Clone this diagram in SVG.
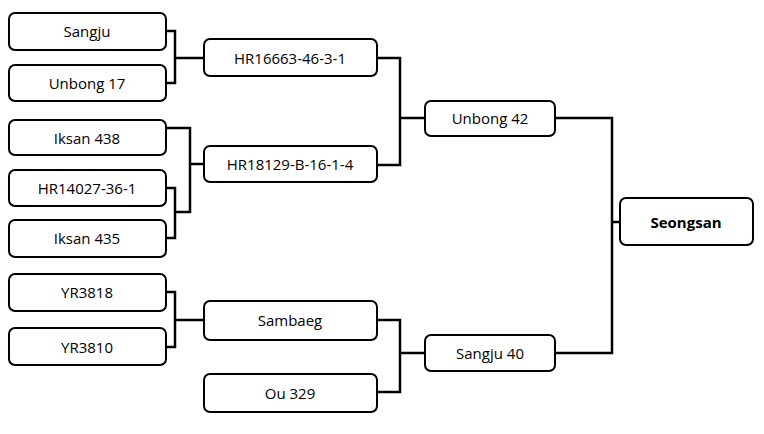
<svg xmlns="http://www.w3.org/2000/svg" width="764" height="434" viewBox="0 0 764 434">
<style>
.n rect{fill:#fff;stroke:#000;stroke-width:2}
.n text{font-family:"Open Sans","Liberation Sans",sans-serif;font-size:15px;text-anchor:middle;dominant-baseline:central;fill:#000}
#c path{fill:none;stroke:#000;stroke-width:2.5}
</style>
<rect width="764" height="434" fill="#fff"/>
<g id="c">
<path d="M166 31H175V83H166M175 58H204"/>
<path d="M166 128H190V212H175M166 188H175V238H166M190 164H204"/>
<path d="M166 292H175V347H166M175 320H204"/>
<path d="M377 58H400V165H377M400 118H425"/>
<path d="M377 320H400V392H377M400 353H425"/>
<path d="M555 118H612V353H555M612 222H620"/>
</g>
<g id="sangju" class="n"><rect x="9" y="13" width="157" height="37" rx="6"/><text x="87" y="31">Sangju</text></g>
<g id="unbong17" class="n"><rect x="9" y="65" width="157" height="36" rx="6"/><text x="87" y="83">Unbong 17</text></g>
<g id="iksan438" class="n"><rect x="9" y="120" width="157" height="35" rx="6"/><text x="87" y="138">Iksan 438</text></g>
<g id="hr14027" class="n"><rect x="9" y="170" width="157" height="36" rx="6"/><text x="87" y="188">HR14027-36-1</text></g>
<g id="iksan435" class="n"><rect x="9" y="220" width="157" height="37" rx="6"/><text x="87" y="238">Iksan 435</text></g>
<g id="yr3818" class="n"><rect x="9" y="274" width="157" height="37" rx="6"/><text x="87" y="292">YR3818</text></g>
<g id="yr3810" class="n"><rect x="9" y="328" width="157" height="37" rx="6"/><text x="87" y="347">YR3810</text></g>
<g id="hr16663" class="n"><rect x="204" y="39" width="173" height="37" rx="6"/><text x="290" y="58">HR16663-46-3-1</text></g>
<g id="hr18129" class="n"><rect x="204" y="146" width="173" height="36" rx="6"/><text x="290" y="164">HR18129-B-16-1-4</text></g>
<g id="sambaeg" class="n"><rect x="204" y="301" width="173" height="39" rx="6"/><text x="290" y="320">Sambaeg</text></g>
<g id="ou329" class="n"><rect x="204" y="374" width="173" height="38" rx="6"/><text x="290" y="393">Ou 329</text></g>
<g id="unbong42" class="n"><rect x="425" y="101" width="130" height="35" rx="6"/><text x="490" y="118">Unbong 42</text></g>
<g id="sangju40" class="n"><rect x="425" y="335" width="130" height="36" rx="6"/><text x="490" y="353">Sangju 40</text></g>
<g id="seongsan" class="n"><rect x="620" y="198" width="133" height="47" rx="6"/><text x="686" y="222" font-weight="bold">Seongsan</text></g>
</svg>
